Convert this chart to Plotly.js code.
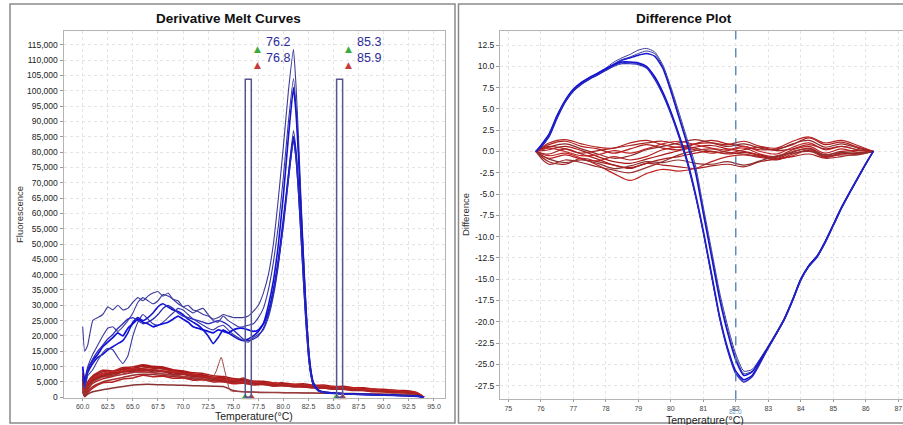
<!DOCTYPE html>
<html><head><meta charset="utf-8">
<script src="https://cdn.plot.ly/plotly-3.0.1.min.js"></script>
<style>html,body{margin:0;padding:0;background:#fff;}#chart{width:903px;height:425px;}</style>
</head><body><div id="chart"></div>
<script>
// ---------- Left panel: Derivative Melt Curves (fluorescence in thousands) ----------
const meltTemps = [60.0,60.2,60.5,61.0,61.5,62.0,62.5,63.0,63.5,64.0,64.5,65.0,65.5,66.0,66.5,67.0,67.5,68.0,68.5,69.0,69.5,70.0,70.5,71.0,71.5,72.0,72.5,73.0,73.5,74.0,74.5,75.0,75.5,76.0,76.5,77.0,77.5,78.0,78.5,79.0,79.5,80.0,80.5,81.0,81.25,81.5,81.75,82.0,82.25,82.5,82.75,83.0,83.5,84.0,85.0,86.0,88.0,90.0,92.0,93.0,93.5,94.0];
const blueMelt1 = [23,15,17, 25,26,27,29.5,28.5,30,28.5,29,31,32.5,31.5,33,34,34.5,33,34,32,31.5,29.5,30,28.5,28,27,26.5,25.5,26,27,26.5,26,26,26,26.5,28,30,34,40,50,65,82,100, 113.5,102,85,65,47,30,17,9,5, 2.5,1.8, 1.4,1.2,1.0,0.8,0.6,0.5,0.3,0];
const blueMelt2 = [9,6,10, 14,17,20,22.5,23,21.5,23,25,27.5,31, 32.5,31.5,30.5,31.5,33.5,33,32,30.5,29.5,28.5, 27.5,28.5,29,27,25,24.5,26.5,25,24,23, 23,23.5,24,26,29,35,44,56,72,90, 104,95,80,62,45,29,16,8.5,4.5, 2.3,1.8, 1.4,1.2,1.0,0.8,0.6,0.5,0.3,0];
const blueMelt3 = [6,4,8, 11,13,14,15.5,16.5,17.5,18.5,21,24.5,26, 25,26,27.5,29.5,30.5,29.5,28.5,28,27,25.5, 24.5,23.5,22,20,17.5,19.5,22,21,20,19, 18.5,19,20,21.5,24,30,38,50,66,85, 101,93,79,61,44,28,15.5,8,4.2, 2.2,1.7, 1.4,1.2,1.0,0.8,0.6,0.5,0.3,0];
const blueMelt4 = [4,3,7, 9,12,14.5,16,15.5,13,11,13.5,20,24.5, 27,25.5,24,23.5,24.5,26,27.5,29,28.5,27, 25.5,24.5,23.5,22.5,22,23,23.5,22,20.5,19.5, 18.5,18,19.5,20.5,22,26,33,43,57,73, 87,81,70,55,40,26,14.5,7.5,4, 2.1,1.6, 1.3,1.1,0.9,0.7,0.5,0.4,0.3,0];
const blueMelt5 = [10,5,9, 12,14,16.5,18,19.5,21,20,22.5,24,25.5, 24.5,24,23,23.5,24,24.5,25.5,26.5,25.5,24.5, 23,22.5,22,21.5,21,22,21.5,21,22,22.5, 22.5,22,21.5,22,24,28,35,45,58,72, 85,79,68,54,39,25,14,7.5,4, 2.1,1.6, 1.3,1.1,0.9,0.7,0.5,0.4,0.3,0];
const blueMelt6 = [7,4,9, 12.5,15,17,19,20.5,22.5,24,25.5,26,25, 24,24.5,25.5,27,29,30,29,27.5,26.5,26, 25.5,25,24.5,24,24.5,25,24.5,23.5,22,20.5, 19,18.5,19,20,22.5,27,34,44,56,71, 84,78,67,53,38,24.5,13.5,7,3.8, 2,1.6, 1.3,1.1,0.9,0.7,0.5,0.4,0.3,0];

const redTemps = [60.0,60.2,60.5,61,62,63,64,65,66,67,68,69,70,71,72,73,74,75,76,77,78,79,80,81,82,83,84,85,86,87,88,89,90,91,92,93,93.5,94];
const redMelt1 = [8,3,5, 7,8.8,8.6,9.7,9.9,10.6,10.1,9.9,9.0,8.6, 8,7.8,7.0,6.8,6.1,5.9,5.3,5.2,4.7,4.7, 4.3,4.4,3.9,4.0,3.5,3.6,3.1,3.1,2.7,2.6, 2.3,2.2,1.8, 1.2,0];
const redMelt2 = [6,2,4, 6.5,8.3,8.2,9.3,9.3,10.1,9.5,9.4,8.6,8.3, 7.5,7.3,6.5,6.4,5.7,5.6,5.0,5.0,4.5,4.4, 4.0,4.0,3.6,3.6,3.2,3.2,2.8,2.8,2.4,2.4, 2.0,2.0,1.6, 1.0,0];
const redMelt3 = [5,1.5,3.5, 5.5,7,7.8,8.5,9,9.3,9,8.6,8.1,7.6, 7.1,6.6,6.2,5.8,5.4,5.1,4.8,4.5,4.3,4.1, 3.9,3.7,3.5,3.3,3.1,2.9,2.8,2.6,2.4,2.2, 2.0,1.8,1.5, 1.0,0];
const redMelt4 = [4,1,3, 5,6.8,7.1,8.3,8.4,9.0,8.3,8.3,7.5,7.5, 6.7,6.7,5.9,5.9,5.1,5.2,4.5,4.6,4.0,4.1, 3.7,3.7,3.3,3.3,2.9,2.9,2.5,2.5,2.1,2.1, 1.8,1.8,1.4, 0.9,0];
const redMelt5 = [3,0.8,2.5, 4.5,6,6.8,7.5,8.2,8.3,8.0,7.6,7.2,6.8, 6.4,6.0,5.7,5.4,5.1,4.8,4.5,4.3,4.1,3.9, 3.7,3.5,3.3,3.1,2.9,2.7,2.5,2.3,2.1,1.9, 1.8,1.6,1.3, 0.8,0];
const redMelt6 = [7,2.5,4.5, 6,7.8,8.0,9.1,9.4,10.4,9.8,9.7,8.8,8.5, 7.5,7.2,6.3,6.2,5.4,5.5,4.8,4.9,4.3,4.4, 3.9,3.9,3.5,3.5,3.1,3.1,2.7,2.7,2.3,2.3, 1.9,1.9,1.6, 1.0,0];
const redMelt7 = [3,0.5,2, 3.5,5,5.8,6.5,7.2,7.5,7.4,7.1,6.8,6.4, 6.0,5.7,5.4,5.1,4.8,4.6,4.4,4.2,4.0,3.8, 3.6,3.4,3.2,3.0,2.8,2.6,2.4,2.2,2.0,1.8, 1.6,1.5,1.2, 0.7,0];
const redMelt8 = [2,0.3,1.5, 3,4.7,5.0,6.0,6.3,7.2,6.7,6.9,6.2,6.3, 5.6,5.7,5.0,5.1,4.4,4.6,4.0,4.2,3.6,3.8, 3.4,3.4,3.0,3.0,2.6,2.6,2.2,2.2,1.8,1.8, 1.5,1.5,1.2, 0.7,0];
const redMelt9 = [5,1.2,3.8, 5.8,7.2,8,8.4,8.9,9.6,9.7,9.2,8.6,8.0, 7.4,6.8,6.4,6.0,5.5,5.2,4.9,4.6,4.4,4.2, 4.0,3.8,3.6,3.4,3.2,3.0,2.8,2.6,2.4,2.2, 2.0,1.8,1.5, 0.9,0];
const redMelt10 = [6,1.8,4.2, 6.2,7.6,8.5,8.5,9.4,8.8,9.0,8.5,8.5,7.6, 7.4,6.6,6.5,5.7,5.7,5.0,5.1,4.5,4.7,4.0, 4.2,3.6,3.8,3.3,3.5,2.9,3.1,2.5,2.7,2.1, 2.3,1.8,1.7, 1.1,0];
const redMelt11 = [2,0.2,1, 1.8,2.5,3.0,3.5,4.0,4.2,4.2,4.1,4.0,3.9, 3.8,3.7,3.6,3.5,2.2,1.8,1.7,1.6,1.6,1.5, 1.5,1.4,1.4,1.3,1.3,1.2,1.2,1.1,1.1,1.0, 1.0,0.9,0.8, 0.5,0];
const redMelt12 = [5,1.5,3.5, 5.5,7,7.6,8.2,8.7,9,8.8,8.4,8,7.5, 7,6.5,6,5.5,5,6.3,4.5,4.3,4.1,3.9, 3.7,3.5,3.3,3.1,2.9,2.7,2.5,2.3,2.1,2.0, 1.8,1.7,1.4, 0.9,0];
const spikeTemps = [60.0,60.2,60.5,61,62,63,64,65,66,67,68,69,70,71,72,72.8,73.3,73.8,74.2,74.7,75.5,77,80,83,86,89,92,93,93.5,94];
const spikeMelt = [4,1,3, 5,6.5,7,7.5,8,8.2,8,7.6,7.2,6.8,6.4,6.0, 5.8,8.5,13,8,2.2,1.9,1.7, 1.5,1.4,1.2,1.1,0.9,0.8,0.5,0];

const markerTemps = [76.2, 76.8, 85.3, 85.9];
const markerTop = 103.7;
const meltTickVals = [0,5,10,15,20,25,30,35,40,45,50,55,60,65,70,75,80,85,90,95,100,105,110,115];
const meltTickText = ['0','5,000','10,000','15,000','20,000','25,000','30,000','35,000','40,000','45,000','50,000','55,000','60,000','65,000','70,000','75,000','80,000','85,000','90,000','95,000','100,000','105,000','110,000','115,000'];

// ---------- Right panel: Difference Plot ----------
const diffTemps = [75.85,76.0,76.25,76.5,76.75,77.0,77.25,77.5,77.75,78.0,78.25,78.5,78.75,79.0,79.25,79.5,79.75,80.0,80.25,80.5,80.75,81.0,81.25,81.5,81.75,82.0,82.25,82.5,82.75,83.0,83.25,83.5,83.75,84.0,84.25,84.5,84.75,85.0,85.25,85.5,85.75,86.0,86.23];
const blueDiff1 = [0,0.6,1.8,4.0,5.9,7.2,8.0,8.6,9.2,9.8,10.5,11.0,11.4,11.9, 12.1,11.7,10.2,7.6,4.6,1.5,-1.5,-6.5,-11.5,-16.5,-20.5,-23.8, -25.8,-25.6,-24.3,-22.8,-21.2,-19.5,-17.3,-14.9,-13.3,-12.2,-10.5,-8.5,-6.5,-4.8,-3.1,-1.4,0];
const blueDiff2 = [0,0.7,2.0,4.2,6.0,7.3,8.1,8.6,9.1,9.7,10.3,10.8,11.1,11.5, 11.8,11.5,10.0,7.3,4.2,1.1,-2.0,-7.0,-12.0,-17.0,-21.0,-24.2, -26.1,-25.8,-24.4,-22.9,-21.3,-19.6,-17.4,-15.0,-13.4,-12.3,-10.6,-8.6,-6.6,-4.9,-3.2,-1.5,0];
const blueDiff3 = [0,0.5,1.7,3.9,5.8,7.1,7.9,8.5,9.0,9.6,10.2,10.7,11.0,11.3, 11.5,11.2,9.8,7.1,4.0,0.9,-2.3,-7.3,-12.3,-17.3,-21.3,-24.5, -26.3,-25.9,-24.5,-23.0,-21.4,-19.7,-17.5,-15.1,-13.5,-12.4,-10.7,-8.7,-6.7,-4.9,-3.2,-1.5,0];
const blueDiff4 = [0,0.6,1.9,4.1,5.9,7.2,8.0,8.6,9.1,9.6,10.1,10.4,10.4,10.3, 9.9,8.6,6.8,4.5,1.8,-1.2,-5.0,-9.5,-14.5,-19.5,-23.3,-26.0, -27.0,-26.4,-24.8,-23.0,-21.4,-19.7,-17.5,-15.1,-13.5,-12.4,-10.7,-8.7,-6.7,-4.9,-3.2,-1.5,0];
const blueDiff5 = [0,0.7,2.0,4.2,6.0,7.3,8.1,8.7,9.2,9.7,10.2,10.5,10.5,10.4, 10.0,8.8,7.0,4.7,2.0,-1.0,-4.8,-9.3,-14.3,-19.3,-23.1,-25.8, -26.8,-26.3,-24.7,-23.0,-21.4,-19.6,-17.4,-15.0,-13.4,-12.3,-10.6,-8.6,-6.6,-4.8,-3.1,-1.4,0];
const blueDiff6 = [0,0.5,1.8,4.0,5.8,7.1,7.9,8.5,9.0,9.5,10.0,10.3,10.3,10.2, 9.8,8.5,6.7,4.4,1.7,-1.3,-5.1,-9.6,-14.6,-19.6,-23.4,-26.1, -27.1,-26.5,-24.9,-23.1,-21.4,-19.7,-17.5,-15.1,-13.5,-12.4,-10.7,-8.7,-6.7,-4.9,-3.2,-1.5,0];

const redDiffTemps = [75.85,76.25,76.75,77.25,77.75,78.25,78.75,79.25,79.75,80.25,80.75,81.25,81.75,82.25,82.75,83.25,83.75,84.25,84.75,85.25,85.75,86.23];
const redDiff1 = [0,0.8,1.2,0.6,0.3,-0.2,0.3,0.8,0.4,0.2,0.9,1.3,0.9,0.6,0.2,0.3,0.8,1.6,0.8,1.1,0.5,0];
const redDiff2 = [0,-1.2,-1.5,-0.8,-1.2,-1.6,-2.0,-1.4,-1.6,-1.8,-2.0,-1.7,-1.5,-1.8,-1.2,-0.9,-0.6,-0.3,-0.8,-0.6,-0.3,0];
const redDiff3 = [0,-0.5,-0.2,-0.8,-1.6,-2.6,-3.4,-2.6,-2.1,-2.3,-2.0,-1.2,-0.6,-0.4,-0.7,-0.9,-0.5,0.2,-0.6,-0.2,-0.3,0];
const redDiff4 = [0,0.5,0.9,0.3,-0.3,-0.8,-0.5,0.2,0.6,1.0,1.4,1.0,0.6,0.9,0.4,0.2,0.9,1.3,0.5,0.9,0.4,0];
const redDiff5 = [0,-0.8,-0.4,-0.9,-1.1,-0.6,-1.0,-0.6,0.2,0.5,0.2,-0.2,0.1,0.4,-0.3,-0.6,0.2,0.6,-0.2,0.3,-0.1,0];
const redDiff6 = [0,0.2,0.6,0.1,-0.6,-1.2,-1.4,-0.9,-0.4,0.1,0.5,0.7,0.3,0.0,-0.4,-0.8,-0.1,0.4,-0.4,0.0,0.1,0];
const redDiff7 = [0,-1.5,-1.0,-1.3,-1.8,-2.2,-2.5,-1.9,-1.2,-0.4,0.1,0.3,-0.1,-0.3,-0.6,-0.7,0.0,0.3,-0.5,-0.4,-0.4,0];
const redDiff8 = [0,1.0,1.4,0.9,0.5,0.4,1.0,1.3,0.8,0.5,0.9,1.0,0.8,1.2,0.6,0.4,1.2,1.7,1.0,1.3,0.7,0];
const redDiff9 = [0,-0.3,0.3,-0.3,-0.9,-1.6,-1.9,-1.4,-0.9,-0.6,-0.2,0.0,-0.3,-0.1,-0.5,-1.0,-0.3,0.1,-0.7,-0.3,-0.2,0];
const redDiff10 = [0,0.4,0.0,-0.5,-0.4,0.1,-0.2,0.3,0.9,1.2,0.8,0.4,0.2,0.6,0.0,-0.3,0.5,1.0,0.2,0.6,0.2,0];
const redDiff11 = [0,-0.9,-1.3,-1.0,-1.4,-2.0,-1.7,-1.2,-1.3,-1.0,-1.4,-1.5,-1.2,-1.6,-1.1,-0.5,-0.2,0.0,-0.4,-0.1,-0.2,0];
const redDiff12 = [0,0.6,0.3,-0.2,0.1,0.4,0.7,1.0,1.2,0.8,0.4,0.0,-0.2,0.2,0.5,0.1,0.3,0.8,0.3,0.6,0.2,0];

const cursorTemp = 82.0;
const diffTickVals = [12.5,10,7.5,5,2.5,0,-2.5,-5,-7.5,-10,-12.5,-15,-17.5,-20,-22.5,-25,-27.5];
const diffTickText = ['12.5','10.0','7.5','5.0','2.5','0.0','-2.5','-5.0','-7.5','-10.0','-12.5','-15.0','-17.5','-20.0','-22.5','-25.0','-27.5'];
const diffXTicks = [75,76,77,78,79,80,81,82,83,84,85,86,87];

// ---------- build ----------
const W = 903, H = 425;
const px = v => v / W, py = v => 1 - v / H;
const FONT = 'Liberation Sans, Arial, sans-serif';

const traces = [];
const redMeltSets = [redMelt1,redMelt2,redMelt3,redMelt4,redMelt5,redMelt6,redMelt7,redMelt8,redMelt9,redMelt10,redMelt11,redMelt12];
const redCols = ['#b01c1c','#a52020','#c02424','#8e2a2a','#b81e1e','#a81a1a','#9a2d2d','#b52222','#aa1e1e','#c22626','#8a3333','#a82222'];
redMeltSets.forEach((ys,i)=>traces.push({x:redTemps,y:ys,xaxis:'x',yaxis:'y',mode:'lines',
  line:{color:redCols[i],width:1.5,shape:'spline',smoothing:0.6},hoverinfo:'skip'}));
traces.push({x:spikeTemps,y:spikeMelt,xaxis:'x',yaxis:'y',mode:'lines',line:{color:'#a04040',width:1,shape:'spline',smoothing:0.5},hoverinfo:'skip'});

const blueMeltSets = [blueMelt1,blueMelt2,blueMelt3,blueMelt4,blueMelt5,blueMelt6];
const blueCols = ['#3b3b9a','#38389e','#1414d0','#3a3aa2','#0f0fdc','#2a2ab8'];
const blueW = [1.1,1.1,1.6,1.1,1.7,1.3];
blueMeltSets.forEach((ys,i)=>traces.push({x:meltTemps,y:ys,xaxis:'x',yaxis:'y',mode:'lines',
  line:{color:blueCols[i],width:blueW[i],shape:'spline',smoothing:0.4},hoverinfo:'skip'}));

// bottom marker triangles
traces.push({x:markerTemps,y:markerTemps.map(()=>0),xaxis:'x',yaxis:'y',mode:'markers',cliponaxis:false,
  marker:{symbol:'triangle-up',size:8,color:['#3cab3c','#c83a3a','#3cab3c','#c83a3a'],line:{color:'#fff',width:0.5}},hoverinfo:'skip'});

const redDiffSets = [redDiff1,redDiff2,redDiff3,redDiff4,redDiff5,redDiff6,redDiff7,redDiff8,redDiff9,redDiff10,redDiff11,redDiff12];
redDiffSets.forEach((ys,i)=>traces.push({x:redDiffTemps,y:ys,xaxis:'x2',yaxis:'y2',mode:'lines',
  line:{color:redCols[i],width:1.2,shape:'spline',smoothing:1},hoverinfo:'skip'}));
const blueDiffSets = [blueDiff1,blueDiff2,blueDiff3,blueDiff4,blueDiff5,blueDiff6];
blueDiffSets.forEach((ys,i)=>traces.push({x:diffTemps,y:ys,xaxis:'x2',yaxis:'y2',mode:'lines',
  line:{color:blueCols[i],width:blueW[i]*0.9,shape:'spline',smoothing:0.6},hoverinfo:'skip'}));

const axisCommon = {showgrid:true,gridcolor:'#e4e4e4',griddash:'dot',gridwidth:1,zeroline:false,
  showline:true,mirror:true,linecolor:'#b4b4b4',linewidth:1,ticks:'outside',ticklen:3,tickcolor:'#9a9a9a',
  fixedrange:true};

const shapes = [
  {type:'rect',xref:'paper',yref:'paper',x0:px(10),x1:px(455),y0:py(423),y1:py(4),line:{color:'#8a8a8a',width:1.5}},
  {type:'rect',xref:'paper',yref:'paper',x0:px(458.5),x1:px(910),y0:py(423),y1:py(4),line:{color:'#8a8a8a',width:1.5}},
  {type:'rect',xref:'x',yref:'y',x0:markerTemps[0],x1:markerTemps[1],y0:0,y1:markerTop,line:{color:'#55558f',width:1.5},fillcolor:'rgba(0,0,0,0)'},
  {type:'rect',xref:'x',yref:'y',x0:markerTemps[2],x1:markerTemps[3],y0:0,y1:markerTop,line:{color:'#55558f',width:1.5},fillcolor:'rgba(0,0,0,0)'},
  {type:'line',xref:'x2',yref:'y2 domain',x0:cursorTemp,x1:cursorTemp,y0:0,y1:1,line:{color:'#4a7db3',width:1.3,dash:'dash'}}
];

const lblFont = {family:FONT,size:12.5,color:'#2b2b9b'};
const C = {xanchor:'center',yanchor:'middle',showarrow:false,xref:'paper',yref:'paper'};
const L = {xanchor:'left',yanchor:'middle',showarrow:false,xref:'paper',yref:'paper'};
const annotations = [
  Object.assign({},C,{text:'<b>Derivative Melt Curves</b>',x:px(228),y:py(19),font:{family:FONT,size:13.5,color:'#111'}}),
  Object.assign({},C,{text:'<b>Difference Plot</b>',x:px(684),y:py(18),font:{family:FONT,size:13.5,color:'#111'}}),
  Object.assign({},C,{text:'Fluorescence',x:px(19),y:py(215),textangle:-90,font:{family:FONT,size:9.5,color:'#333'}}),
  Object.assign({},C,{text:'Difference',x:px(465),y:py(215),textangle:-90,font:{family:FONT,size:9.5,color:'#333'}}),
  Object.assign({},C,{text:'Temperature(°C)',x:px(254),y:py(416),font:{family:FONT,size:10.5,color:'#222'}}),
  Object.assign({},C,{text:'Temperature(°C)',x:px(705),y:py(419.5),font:{family:FONT,size:10.5,color:'#222'}}),
  Object.assign({},C,{text:cursorTemp.toFixed(1),xref:'x2',x:cursorTemp,y:py(411.5),font:{family:FONT,size:6.5,color:'#6a96c6'}}),
  Object.assign({},L,{text:markerTemps[0].toFixed(1),x:px(264),y:py(42),font:lblFont}),
  Object.assign({},L,{text:markerTemps[1].toFixed(1),x:px(264),y:py(58),font:lblFont}),
  Object.assign({},L,{text:markerTemps[2].toFixed(1),x:px(355),y:py(42),font:lblFont}),
  Object.assign({},L,{text:markerTemps[3].toFixed(1),x:px(355),y:py(58),font:lblFont}),
  Object.assign({},C,{text:'▲',x:px(257),y:py(49),font:{family:'DejaVu Sans',size:9,color:'#3cab3c'}}),
  Object.assign({},C,{text:'▲',x:px(257),y:py(65),font:{family:'DejaVu Sans',size:9,color:'#c83a3a'}}),
  Object.assign({},C,{text:'▲',x:px(348),y:py(49),font:{family:'DejaVu Sans',size:9,color:'#3cab3c'}}),
  Object.assign({},C,{text:'▲',x:px(348),y:py(65),font:{family:'DejaVu Sans',size:9,color:'#c83a3a'}})
];

const layout = {
  width:W,height:H,margin:{l:0,r:0,t:0,b:0},paper_bgcolor:'#fff',plot_bgcolor:'#fff',showlegend:false,
  font:{family:FONT,color:'#333'},
  xaxis:Object.assign({},axisCommon,{domain:[px(63.5),px(445)],range:[58.087,96.10],tick0:60,dtick:2.5,tickformat:'.1f',
    tickfont:{family:FONT,size:7,color:'#444'},ticklen:2}),
  yaxis:Object.assign({},axisCommon,{domain:[py(398),py(31)],range:[-0.228,119.47],tickmode:'array',tickvals:meltTickVals,ticktext:meltTickText,
    tickfont:{family:FONT,size:8.5,color:'#222'}}),
  xaxis2:Object.assign({},axisCommon,{anchor:'y2',domain:[px(500),1],range:[74.745,87.145],tickmode:'array',tickvals:diffXTicks,ticktext:diffXTicks.map(String),
    tickfont:{family:FONT,size:7,color:'#444'},ticklen:2}),
  yaxis2:Object.assign({},axisCommon,{anchor:'x2',domain:[py(399.3),py(31)],range:[-29.1,14.144],tickmode:'array',tickvals:diffTickVals,ticktext:diffTickText,
    tickfont:{family:FONT,size:8.5,color:'#222'}}),
  shapes:shapes,annotations:annotations
};
Plotly.newPlot('chart',traces,layout,{staticPlot:true,displayModeBar:false});
</script></body></html>
